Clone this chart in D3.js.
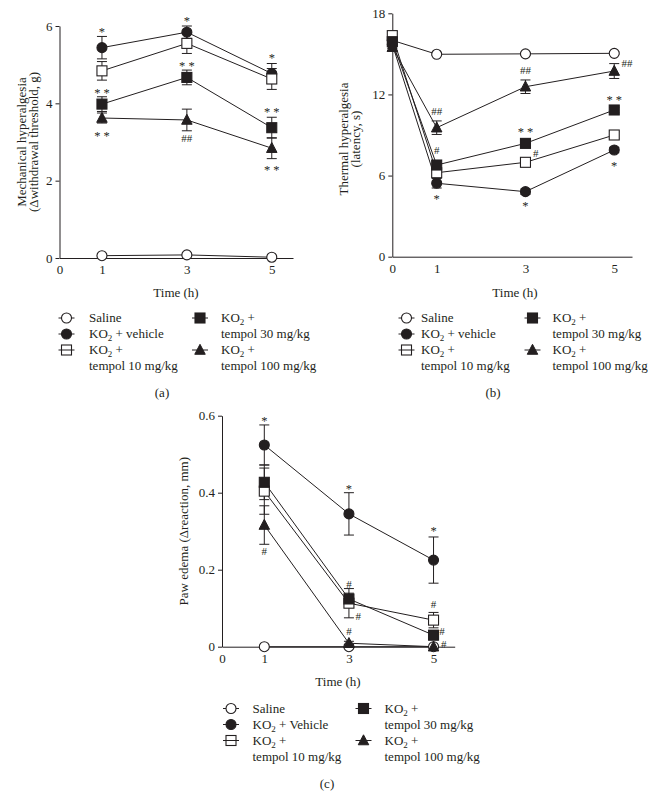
<!DOCTYPE html>
<html><head><meta charset="utf-8">
<script src="https://cdn.jsdelivr.net/npm/d3@7"></script>
<style>
html,body{margin:0;padding:0;background:#fff;}
svg text{font-family:"Liberation Serif","Times New Roman",serif;fill:#231f20;}
</style></head>
<body><svg id="chart" width="656" height="809"></svg>
<script>
// ---------- DATA ----------
const seriesNames = ["Saline", "KO2 + vehicle", "KO2 + tempol 10 mg/kg", "KO2 + tempol 30 mg/kg", "KO2 + tempol 100 mg/kg"];
const seriesMarkers = ["circleOpen", "circle", "squareOpen", "square", "triangle"];

// (a) Mechanical hyperalgesia
const timesA = [1, 3, 5];
const mechSaline = [0.06, 0.08, 0.02];
const mechSalineErr = [0.02, 0.02, 0.01];
const mechVehicle = [5.44, 5.84, 4.77];
const mechVehicleErr = [0.29, 0.16, 0.26];
const mechT10 = [4.84, 5.55, 4.63];
const mechT10Err = [0.24, 0.26, 0.27];
const mechT30 = [3.98, 4.67, 3.37];
const mechT30Err = [0.19, 0.19, 0.27];
const mechT100 = [3.62, 3.57, 2.84];
const mechT100Err = [0.13, 0.28, 0.27];
const mechYTicks = [0, 2, 4, 6];
const mechAnnot = [[1, 5.92, "*"], [1, 4.34, "* *"], [1, 3.23, "* *"],
                   [3, 6.2, "*"], [3, 5.04, "* *"], [3, 3.1, "##"],
                   [5, 5.25, "*"], [5, 3.83, "* *"], [5, 2.33, "* *"]];

// (b) Thermal hyperalgesia
const timesB = [0, 1, 3, 5];
const thermSaline = [16.0, 14.97, 15.0, 15.04];
const thermSalineErr = [0.1, 0.1, 0.1, 0.1];
const thermVehicle = [15.7, 5.43, 4.81, 7.89];
const thermVehicleErr = [0.3, 0.35, 0.2, 0.2];
const thermT10 = [16.35, 6.21, 6.98, 9.0];
const thermT10Err = [0.3, 0.3, 0.2, 0.25];
const thermT30 = [15.9, 6.78, 8.38, 10.85];
const thermT30Err = [0.3, 0.3, 0.3, 0.2];
const thermT100 = [15.5, 9.54, 12.57, 13.73];
const thermT100Err = [0.3, 0.5, 0.5, 0.55];
const thermYTicks = [0, 6, 12, 18];
const thermAnnot = [[1, 10.72, "##"], [1, 7.89, "#"], [1, 4.44, "*"],
                    [3, 13.81, "##"], [3, 9.37, "* *"], [3.23, 7.67, "#"], [3, 3.97, "*"],
                    [5.29, 14.33, "##"], [5, 11.74, "* *"], [5, 6.86, "*"]];

// (c) Paw edema
const timesC = [1, 3, 5];
const edemaSaline = [0, 0, 0];
const edemaSalineErr = [0, 0, 0];
const edemaVehicle = [0.524, 0.345, 0.225];
const edemaVehicleErr = [0.052, 0.055, 0.06];
const edemaT10 = [0.404, 0.113, 0.069];
const edemaT10Err = [0.06, 0.038, 0.02];
const edemaT30 = [0.427, 0.124, 0.03];
const edemaT30Err = [0.045, 0.015, 0.012];
const edemaT100 = [0.316, 0.009, 0];
const edemaT100Err = [0.05, 0.005, 0];
const edemaYTicks = [0, 0.2, 0.4, 0.6];
const edemaAnnot = [[1, 0.594, "*"], [1, 0.249, "#"],
                    [3, 0.417, "*"], [3, 0.162, "#"], [3.22, 0.078, "#"], [3, 0.039, "#"],
                    [5, 0.306, "*"], [5, 0.11, "#"], [5.2, 0.041, "#"], [5.24, 0.006, "#"]];

const xTickValues = [0, 1, 3, 5];
const legendA = ["Saline", "KO2 + vehicle", "KO2 +|tempol 10 mg/kg", "KO2 +|tempol 30 mg/kg", "KO2 +|tempol 100 mg/kg"];
const legendC = ["Saline", "KO2 + Vehicle", "KO2 +|tempol 10 mg/kg", "KO2 +|tempol 30 mg/kg", "KO2 +|tempol 100 mg/kg"];

// ---------- DRAWING ----------
const svg = d3.select("#chart");
const INK = "#231f20";

function drawMarker(g, type, cx, cy, s) {
  const r = s / 2;
  if (type === "circle" || type === "circleOpen") {
    g.append("circle").attr("cx", cx).attr("cy", cy).attr("r", r)
      .attr("fill", type === "circle" ? INK : "#fff").attr("stroke", INK).attr("stroke-width", 1.1);
  } else if (type === "square" || type === "squareOpen") {
    g.append("rect").attr("x", cx - r).attr("y", cy - r).attr("width", s).attr("height", s)
      .attr("fill", type === "square" ? INK : "#fff").attr("stroke", INK).attr("stroke-width", 1.1);
  } else if (type === "triangle") {
    const h = s * 0.95;
    g.append("path").attr("d", `M${cx},${cy - h * 0.6}L${cx + r * 1.05},${cy + h * 0.45}L${cx - r * 1.05},${cy + h * 0.45}Z`)
      .attr("fill", INK).attr("stroke", INK).attr("stroke-width", 1);
  }
}

function subText(sel, str) {
  const parts = str.split("KO2");
  parts.forEach((p, i) => {
    if (i > 0) {
      sel.append("tspan").text("KO");
      sel.append("tspan").attr("font-size", "9px").attr("dy", 3).text("2");
      sel.append("tspan").attr("dy", -3).text(p);
    } else if (p.length) {
      sel.append("tspan").text(p);
    }
  });
}

function drawPanel(cfg) {
  const g = svg.append("g");
  const x = d3.scaleLinear().domain(cfg.xDomain).range(cfg.xRange);
  const y = d3.scaleLinear().domain(cfg.yDomain).range(cfg.yRange);

  const yAxis = d3.axisLeft(y).tickValues(cfg.yTicks).tickSize(4).tickSizeOuter(0).tickPadding(3)
    .tickFormat(d3.format(cfg.yFormat));
  const xAxis = d3.axisBottom(x).tickValues(xTickValues).tickSize(0).tickSizeOuter(0).tickPadding(7)
    .tickFormat(d3.format("d"));
  const ya = g.append("g").attr("transform", `translate(${cfg.xRange[0]},0)`).call(yAxis);
  const xa = g.append("g").attr("transform", `translate(0,${cfg.yRange[0]})`).call(xAxis);
  [ya, xa].forEach(a => {
    a.selectAll("path,line").attr("stroke", INK).attr("stroke-width", 1);
    a.selectAll("text").attr("font-size", "13px").attr("fill", INK)
      .style("font-family", '"Liberation Serif","Times New Roman",serif');
  });

  const yMid = (cfg.yRange[0] + cfg.yRange[1]) / 2 + (cfg.yLabelShift || 0);
  cfg.yLabel.forEach((t, i) => {
    g.append("text").attr("transform", `translate(${cfg.yLabelX[i]},${yMid}) rotate(-90)`)
      .attr("text-anchor", "middle").attr("dy", "0.35em").attr("font-size", "13px").text(t);
  });
  g.append("text").attr("x", cfg.timeLabel[0]).attr("y", cfg.timeLabel[1]).attr("dy", "0.35em")
    .attr("text-anchor", "middle").attr("font-size", "13px").text("Time (h)");

  const series = cfg.series;
  const line = d3.line().x(d => x(d[0])).y(d => y(d[1]));
  series.forEach(s => {
    g.append("path").datum(cfg.times.map((t, i) => [t, s.v[i]]))
      .attr("d", line).attr("fill", "none").attr("stroke", INK).attr("stroke-width", 1);
  });
  series.forEach(s => {
    cfg.times.forEach((t, i) => {
      const e = s.e[i];
      if (!e) return;
      const cx = x(t), y1 = y(s.v[i] + e), y0 = y(s.v[i] - e);
      g.append("line").attr("x1", cx).attr("x2", cx).attr("y1", y1).attr("y2", y0).attr("stroke", INK).attr("stroke-width", 1);
      [y1, y0].forEach(yy => g.append("line").attr("x1", cx - 5).attr("x2", cx + 5).attr("y1", yy).attr("y2", yy)
        .attr("stroke", INK).attr("stroke-width", 1));
    });
  });
  series.forEach((s, k) => {
    cfg.times.forEach((t, i) => drawMarker(g, seriesMarkers[k], x(t), y(s.v[i]), 10));
  });
  cfg.annot.forEach(a => {
    const star = a[2].includes("*");
    g.append("text").attr("x", x(a[0])).attr("y", y(a[1]))
      .attr("dy", star ? "0.52em" : "0.34em")
      .attr("text-anchor", "middle").attr("font-size", star ? "12.5px" : "11px").text(a[2]);
  });

  const L = cfg.legend;
  const rowH = 16;
  const slots = [[0, 0], [0, 1], [0, 2], [1, 0], [1, 2]];
  L.labels.forEach((lab, k) => {
    const col = slots[k][0], row = slots[k][1];
    const sx = L.symX[col], tx = L.textX[col], cy = L.y0 + row * rowH;
    g.append("line").attr("x1", sx - 8).attr("x2", sx + 8).attr("y1", cy).attr("y2", cy)
      .attr("stroke", INK).attr("stroke-width", 1);
    if (seriesMarkers[k] === "squareOpen") {
      g.append("rect").attr("x", sx - 5).attr("y", cy - 5).attr("width", 10).attr("height", 10)
        .attr("fill", "none").attr("stroke", INK).attr("stroke-width", 1.1);
    } else {
      drawMarker(g, seriesMarkers[k], sx, cy, 10);
    }
    lab.split("|").forEach((ln, j) => {
      const t = g.append("text").attr("x", tx).attr("y", cy + j * rowH).attr("dy", "0.33em").attr("font-size", "13px");
      subText(t, ln);
    });
  });

  g.append("text").attr("x", cfg.panelLabel[0]).attr("y", cfg.panelLabel[1]).attr("dy", "0.35em")
    .attr("text-anchor", "middle").attr("font-size", "13px").text(cfg.panelLabel[2]);
}

drawPanel({
  xDomain: [0, 5.5], xRange: [59.5, 293],
  yDomain: [0, 6], yRange: [258, 26], yTicks: mechYTicks, yFormat: "d",
  yLabel: ["Mechanical hyperalgesia", "(\u0394withdrawal threshold, g)"], yLabelX: [21.5, 33.5],
  timeLabel: [176, 292],
  times: timesA,
  series: [{v: mechSaline, e: mechSalineErr}, {v: mechVehicle, e: mechVehicleErr}, {v: mechT10, e: mechT10Err},
           {v: mechT30, e: mechT30Err}, {v: mechT100, e: mechT100Err}],
  annot: mechAnnot,
  legend: {labels: legendA, symX: [66.5, 200], textX: [89, 221], y0: 318},
  panelLabel: [162, 392, "(a)"]
});

drawPanel({
  xDomain: [0, 5.4], xRange: [392.3, 632],
  yDomain: [0, 18], yRange: [256.7, 13.3], yTicks: thermYTicks, yFormat: "d",
  yLabel: ["Thermal hyperalgesia", "(latency, s)"], yLabelX: [343.5, 355.5], yLabelShift: 4,
  timeLabel: [515, 292],
  times: timesB,
  series: [{v: thermSaline, e: thermSalineErr}, {v: thermVehicle, e: thermVehicleErr}, {v: thermT10, e: thermT10Err},
           {v: thermT30, e: thermT30Err}, {v: thermT100, e: thermT100Err}],
  annot: thermAnnot,
  legend: {labels: legendA, symX: [406.5, 532.5], textX: [421, 552.5], y0: 318},
  panelLabel: [493, 392, "(b)"]
});

drawPanel({
  xDomain: [0, 5.5], xRange: [222, 454.7],
  yDomain: [0, 0.6], yRange: [646.7, 415.7], yTicks: edemaYTicks, yFormat: "",
  yLabel: ["Paw edema (\u0394reaction, mm)"], yLabelX: [183.5],
  timeLabel: [338, 681],
  times: timesC,
  series: [{v: edemaSaline, e: edemaSalineErr}, {v: edemaVehicle, e: edemaVehicleErr}, {v: edemaT10, e: edemaT10Err},
           {v: edemaT30, e: edemaT30Err}, {v: edemaT100, e: edemaT100Err}],
  annot: edemaAnnot,
  legend: {labels: legendC, symX: [231, 363.5], textX: [252.5, 384.5], y0: 708.5},
  panelLabel: [327, 783, "(c)"]
});
</script></body></html>
